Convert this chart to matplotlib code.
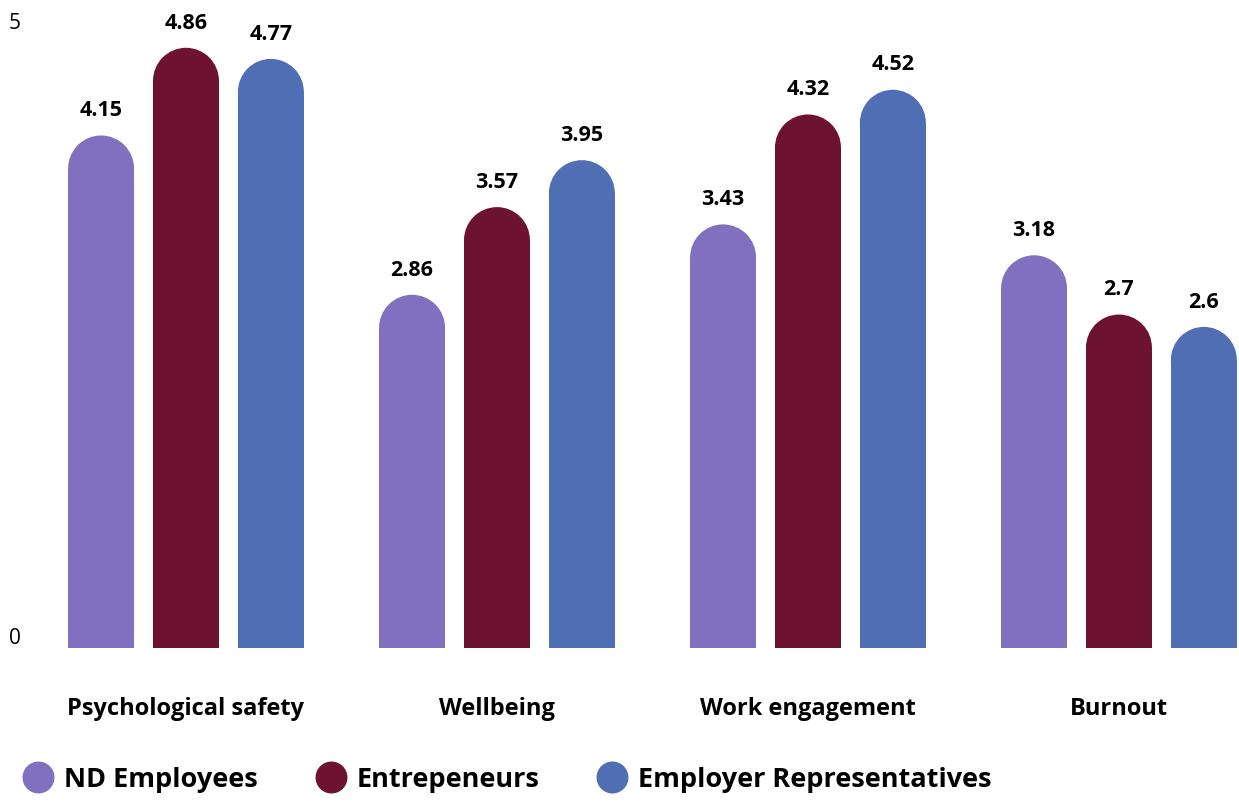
import matplotlib
matplotlib.use("Agg")
import matplotlib.pyplot as plt
from matplotlib.patches import Rectangle, Ellipse
from matplotlib.lines import Line2D
import numpy as np

plt.rcParams['font.family'] = ['Open Sans', 'DejaVu Sans']

categories = ['Psychological safety', 'Wellbeing', 'Work engagement', 'Burnout']
groups = ['ND Employees', 'Entrepeneurs', 'Employer Representatives']
nd_employees = [4.15, 2.86, 3.43, 3.18]
entrepreneurs = [4.86, 3.57, 4.32, 2.70]
employer_reps = [4.77, 3.95, 4.52, 2.60]
colors = ['#8170BF', '#6E1232', '#4F6EB4']

series = [nd_employees, entrepreneurs, employer_reps]

W, H = 1239, 804
fig = plt.figure(figsize=(W / 100, H / 100), dpi=100)
zero_px = 649
ax = fig.add_axes([0, (H - zero_px) / H, 1, zero_px / H])
ax.set_xlim(-0.598, 3.386)
ax.set_ylim(0, 5.255)
ax.axis('off')

bar_w = 0.212
step = 0.273
x = np.arange(len(categories))

# pixels per data unit on each axis, so the caps come out round
fig.canvas.draw()
px_x = ax.transData.transform((1, 0))[0] - ax.transData.transform((0, 0))[0]
px_y = ax.transData.transform((0, 1))[1] - ax.transData.transform((0, 0))[1]
r_y = (bar_w / 2) * px_x / px_y

for i, (vals, col) in enumerate(zip(series, colors)):
    for xc, v in zip(x + (i - 1) * step, vals):
        left = xc - bar_w / 2
        ax.add_patch(Rectangle((left, 0), bar_w, v - r_y, facecolor=col,
                               edgecolor='none', linewidth=0))
        ax.add_patch(Ellipse((xc, v - r_y), bar_w, 2 * r_y, facecolor=col,
                             edgecolor='none', linewidth=0))
        ax.annotate(f'{v:g}', (xc, v), xytext=(0, 11), textcoords='offset points',
                    ha='center', va='bottom', fontsize=15.5, fontweight='bold')

# y axis end labels
ax.text(-0.55, 4.98, '5', ha='center', va='bottom', fontsize=15)
ax.text(-0.55, 0.0, '0', ha='center', va='bottom', fontsize=15)

for xc, name in zip(x, categories):
    fig.text(ax.transData.transform((xc, 0))[0] / W, 1 - 709 / H, name,
             ha='center', va='center', fontsize=17, fontweight='bold')

handles = [Line2D([], [], marker='o', linestyle='none', markersize=23,
                  markerfacecolor=c, markeredgecolor='none') for c in colors]
leg = fig.legend(handles, groups, loc='center left',
                 bbox_to_anchor=(20.5 / W, 1 - 780 / H),
                 ncol=3, frameon=False, prop={'size': 19.5, 'weight': 'bold'},
                 handlelength=1.29, handletextpad=0.31, columnspacing=2.05,
                 borderaxespad=0, borderpad=0)

fig.savefig('out.png', dpi=100)
